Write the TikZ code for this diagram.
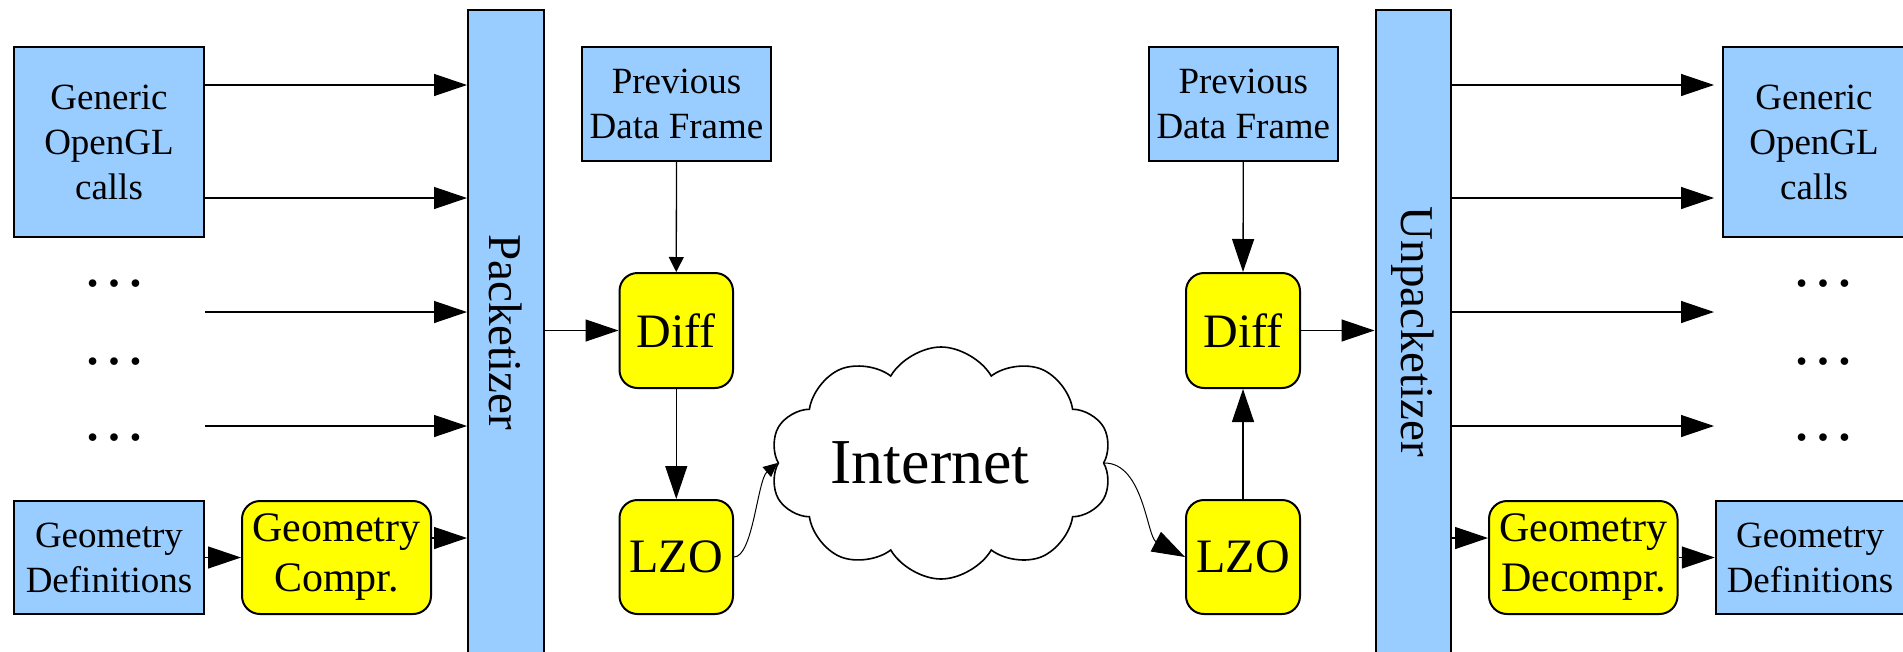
\documentclass[tikz,border=0pt]{standalone}
\usepackage{fontspec}
\setmainfont{Liberation Serif}
\usepackage{graphicx}
\usetikzlibrary{arrows.meta,shapes.symbols}
\definecolor{boxblue}{RGB}{153,204,255}
\definecolor{boxyellow}{RGB}{255,255,0}

\begin{document}
\begin{tikzpicture}[x=1pt,y=-1pt,
  bluebox/.style={draw, line width=2pt, fill=boxblue, align=center, inner sep=0pt,
    font=\fontsize{37}{45}\selectfont},
  yelbox/.style={draw, line width=2pt, fill=boxyellow, rounded corners=18pt,
    align=center, inner sep=0pt},
  bigtext/.style={font=\fontsize{48}{56}\selectfont},
  midtext/.style={font=\fontsize{42}{50}\selectfont},
  bar/.style={draw, line width=2pt, fill=boxblue, inner sep=0pt,
    minimum width=75.5pt, minimum height=644pt, font=\fontsize{47}{56}\selectfont},
  dots/.style={inner sep=0pt, font=\fontsize{64}{64}\selectfont},
  arr/.style={line width=1.3pt, -{Triangle[length=33pt,width=22pt]}},
  arrsmall/.style={line width=1.3pt, -{Triangle[length=15pt,width=15pt]}},
  wire/.style={line width=1pt}
]
\useasboundingbox (0,0) rectangle (1903,651);

% sender side
\node[bluebox, minimum width=190pt, minimum height=190pt] (genL) at (109,142) {Generic\\OpenGL\\calls};
\node[dots] (dotsL1) at (114.5,284) {…};
\node[dots] (dotsL2) at (114.5,362) {…};
\node[dots] (dotsL3) at (114.5,438) {…};
\node[bluebox, minimum width=190pt, minimum height=113pt] (defL) at (109,557.5) {Geometry\\Definitions};
\node[yelbox, midtext, minimum width=189pt, minimum height=113pt] (comp) at (336.5,557.5) {Geometry\\Compr.};
\node[bar] (pk) at (505.75,332) {\rotatebox{-90}{Packetizer}};
\node[bluebox, minimum width=189pt, minimum height=114pt] (prevL) at (676.5,104) {Previous\\Data Frame};
\node[yelbox, bigtext, minimum width=113.5pt, minimum height=115pt] (diffL) at (676.25,330.5) {Diff};
\node[yelbox, bigtext, minimum width=113.5pt, minimum height=114pt] (lzoL) at (676.25,557) {LZO};

% network
\node[cloud, draw, line width=1.6pt, fill=white, cloud puffs=10, cloud puff arc=120,
  cloud ignores aspect, minimum width=342pt, minimum height=232pt, inner sep=0pt,
  font=\fontsize{64}{70}\selectfont] (net) at (941,463) {\hspace*{-22pt}Internet};

% receiver side
\node[bluebox, minimum width=189pt, minimum height=114pt] (prevR) at (1243.3,104) {Previous\\Data Frame};
\node[yelbox, bigtext, minimum width=114pt, minimum height=115pt] (diffR) at (1243,330.5) {Diff};
\node[yelbox, bigtext, minimum width=114pt, minimum height=114pt] (lzoR) at (1243,557) {LZO};
\node[bar] (upk) at (1413.25,332) {\rotatebox{-90}{Unpacketizer}};
\node[bluebox, minimum width=182pt, minimum height=190pt] (genR) at (1814,142) {Generic\\OpenGL\\calls};
\node[dots] (dotsR1) at (1823,284) {…};
\node[dots] (dotsR2) at (1823,362) {…};
\node[dots] (dotsR3) at (1823,438) {…};
\node[yelbox, midtext, minimum width=188.5pt, minimum height=113pt] (decomp) at (1583.25,557.5) {Geometry\\Decompr.};
\node[bluebox, minimum width=188.5pt, minimum height=113pt] (defR) at (1810,557.5) {Geometry\\Definitions};

% arrow rows
\coordinate (r1) at (0,85);
\coordinate (r2) at (0,198);
\coordinate (r3) at (0,312);
\coordinate (r4) at (0,426);
\coordinate (r6) at (0,538);
\coordinate (rEnd) at ([xshift=-8pt]genR.west);

% sender connectors
\draw[arr] (genL.east |- r1) -- (pk.west |- r1);
\draw[arr] (genL.east |- r2) -- (pk.west |- r2);
\draw[arr] (genL.east |- r3) -- (pk.west |- r3);
\draw[arr] (genL.east |- r4) -- (pk.west |- r4);
\draw[arr] (defL.east) -- (comp.west);
\draw[arr] (comp.east |- r6) -- (pk.west |- r6);
\draw[arr] (pk.east |- diffL.west) -- (diffL.west);
\draw[arrsmall] (prevL.south) -- (diffL.north);
\draw[arr] (diffL.south) -- (lzoL.north);
\draw[wire, -{Triangle[length=14pt,width=13pt]}] (lzoL.east) .. controls +(19,0) and +(-20,17) .. (net.west);

% receiver connectors
\draw[wire, -{Triangle[length=33pt,width=22pt]}] (net.east) .. controls +(39,0) and +(-38,-20) .. (lzoR.west);
\draw[arr] (lzoR.north) -- (diffR.south);
\draw[arr] (prevR.south) -- (diffR.north);
\draw[arr] (diffR.east) -- (upk.west |- diffR.east);
\draw[arr] (upk.east |- r1) -- (rEnd |- r1);
\draw[arr] (upk.east |- r2) -- (rEnd |- r2);
\draw[arr] (upk.east |- r3) -- (rEnd |- r3);
\draw[arr] (upk.east |- r4) -- (rEnd |- r4);
\draw[arr] (upk.east |- r6) -- (decomp.west |- r6);
\draw[arr] (decomp.east) -- (defR.west);
\end{tikzpicture}
\end{document}
